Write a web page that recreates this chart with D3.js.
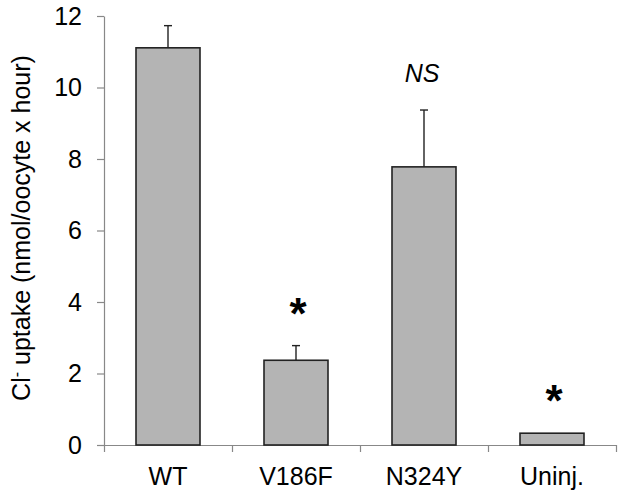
<!DOCTYPE html>
<html>
<head>
<meta charset="utf-8">
<script src="https://cdn.jsdelivr.net/npm/d3@7"></script>
<style>
  body { margin: 0; background: #fff; }
  text { font-family: "Liberation Sans", Arial, sans-serif; fill: #000; }
</style>
</head>
<body>
<div id="chart"></div>
<script>
var groups = ["WT", "V186F", "N324Y", "Uninj."];
var uptake = [11.11, 2.37, 7.78, 0.33];
var errors = [0.62, 0.41, 1.59, 0];
var marks = ["", "*", "NS", "*"];
var yTicks = [0, 2, 4, 6, 8, 10, 12];

var svgWidth = 624;
var svgHeight = 496;

var margin = {
  top: 16,
  right: 8,
  bottom: 51,
  left: 104
};

var width = svgWidth - margin.left - margin.right;
var height = svgHeight - margin.top - margin.bottom;

var svg = d3.select("#chart")
  .append("svg")
  .attr("width", svgWidth)
  .attr("height", svgHeight);

var chartGroup = svg.append("g")
  .attr("transform", `translate(${margin.left}, ${margin.top})`);

// scales
var xScale = d3.scaleBand()
  .domain(groups)
  .range([0, width])
  .paddingInner(0.5)
  .paddingOuter(0.25);

var xEdges = d3.scaleLinear()
  .domain([0, groups.length])
  .range([0, width]);

var yScale = d3.scaleLinear()
  .domain([0, 12])
  .range([height, 0]);

// y axis
var leftAxis = d3.axisLeft(yScale)
  .tickValues(yTicks)
  .tickSize(7)
  .tickSizeOuter(0)
  .tickPadding(15);

var yAxis = chartGroup.append("g").call(leftAxis);
yAxis.select(".domain").attr("stroke", "#888").attr("stroke-width", 1.2);
yAxis.selectAll(".tick line").attr("stroke", "#888").attr("stroke-width", 1.2);
yAxis.selectAll("text")
  .style("font-size", "25px")
  .style("font-family", "Liberation Sans, Arial, sans-serif")
  .attr("fill", "#000");

// x axis: ticks sit on the band edges, labels at band centres
var edgeAxis = d3.axisBottom(xEdges)
  .tickValues(d3.range(groups.length + 1))
  .tickSize(7)
  .tickSizeOuter(0)
  .tickFormat("");

var xAxis = chartGroup.append("g")
  .attr("transform", `translate(0, ${height})`)
  .call(edgeAxis);
xAxis.select(".domain").attr("stroke", "#888").attr("stroke-width", 1.2);
xAxis.selectAll(".tick line").attr("stroke", "#888").attr("stroke-width", 1.2);

var labelAxis = d3.axisBottom(xScale)
  .tickSize(0)
  .tickPadding(22);

var xLabels = chartGroup.append("g")
  .attr("transform", `translate(0, ${height})`)
  .call(labelAxis);
xLabels.select(".domain").remove();
xLabels.selectAll("text")
  .style("font-size", "25px")
  .style("font-family", "Liberation Sans, Arial, sans-serif")
  .attr("fill", "#000");

// bars
chartGroup.selectAll(".bar")
  .data(groups)
  .enter()
  .append("rect")
  .attr("class", "bar")
  .attr("x", d => xScale(d))
  .attr("y", (d, i) => yScale(uptake[i]))
  .attr("width", xScale.bandwidth())
  .attr("height", (d, i) => height - yScale(uptake[i]))
  .attr("fill", "#b4b4b4")
  .attr("stroke", "#222")
  .attr("stroke-width", 1.6);

// error bars (upper half only)
var errGroup = chartGroup.append("g");
groups.forEach(function(g, i) {
  if (!errors[i]) return;
  var cx = xScale(g) + xScale.bandwidth() / 2;
  errGroup.append("line")
    .attr("x1", cx).attr("x2", cx)
    .attr("y1", yScale(uptake[i]))
    .attr("y2", yScale(uptake[i] + errors[i]))
    .attr("stroke", "#222")
    .attr("stroke-width", 1.4);
  errGroup.append("line")
    .attr("x1", cx - 4).attr("x2", cx + 4)
    .attr("y1", yScale(uptake[i] + errors[i]))
    .attr("y2", yScale(uptake[i] + errors[i]))
    .attr("stroke", "#222")
    .attr("stroke-width", 1.4);
});

// significance marks
groups.forEach(function(g, i) {
  if (!marks[i]) return;
  var cx = xScale(g) + xScale.bandwidth() / 2;
  var top = yScale(uptake[i] + errors[i]);
  if (marks[i] === "NS") {
    chartGroup.append("text")
      .attr("x", cx - 2)
      .attr("y", top - 28)
      .attr("text-anchor", "middle")
      .style("font-size", "25px")
      .style("font-style", "italic")
      .text(marks[i]);
  } else {
    chartGroup.append("text")
      .attr("x", cx + 2)
      .attr("y", top - 17)
      .attr("text-anchor", "middle")
      .style("font-size", "44px")
      .style("font-weight", "bold")
      .text(marks[i]);
  }
});

// y axis title
var yTitle = svg.append("text")
  .attr("transform", "translate(30, 228) rotate(-90)")
  .attr("text-anchor", "middle")
  .style("font-size", "25px");
yTitle.append("tspan").text("Cl");
yTitle.append("tspan")
  .attr("dy", -8)
  .style("font-size", "16px")
  .text("-");
yTitle.append("tspan")
  .attr("dy", 8)
  .text(" uptake (nmol/oocyte x hour)");
</script>
</body>
</html>
